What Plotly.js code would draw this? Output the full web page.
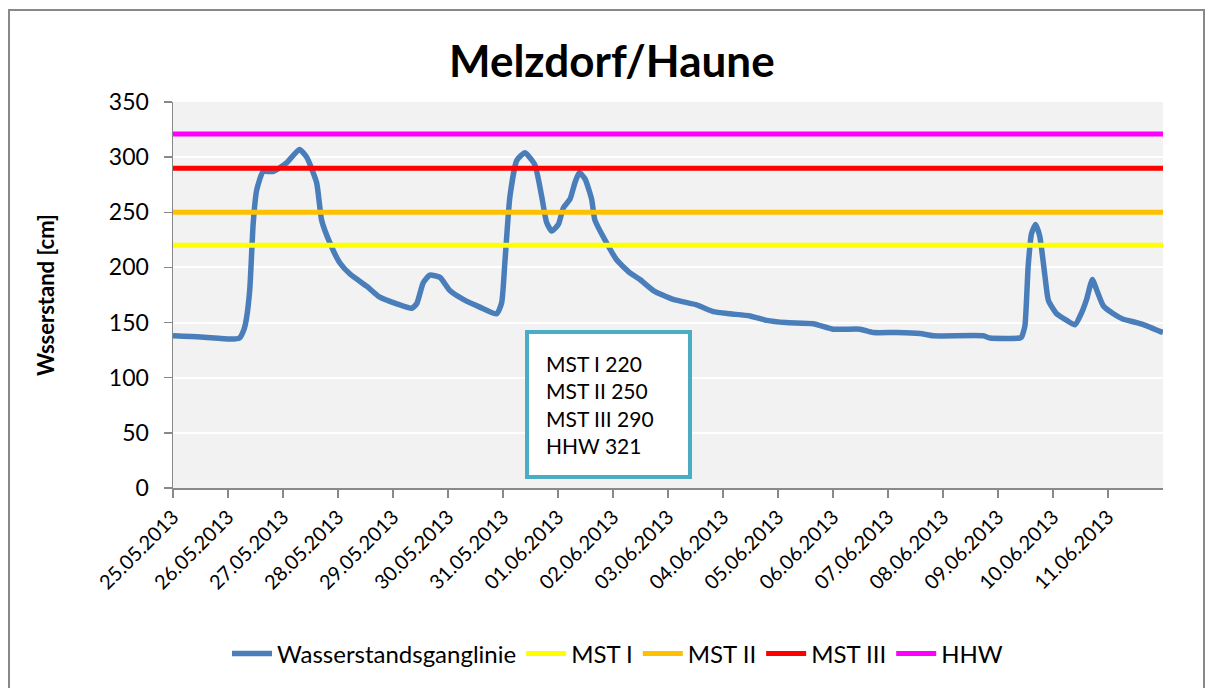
<!DOCTYPE html>
<html>
<head>
<meta charset="utf-8">
<script src="https://cdn.plot.ly/plotly-3.0.1.min.js"></script>
<style>
  html, body { margin: 0; padding: 0; background: #fff; }
  #wrap { position: relative; width: 1214px; height: 688px; overflow: hidden; }
  #chart { position: absolute; left: 0; top: 0; width: 1214px; height: 688px; }
  #frame { position: absolute; left: 8px; top: 9px; width: 1197px; height: 700px;
           border: 2px solid #898989; pointer-events: none; box-sizing: border-box; }
</style>
</head>
<body>
<div id="wrap">
  <div id="chart"></div>
  <div id="frame"></div>
</div>
<script>
// ---- data ----
const times = [
  "2013-05-25 00:00","2013-05-25 12:00","2013-05-26 01:00","2013-05-26 05:00","2013-05-26 07:00",
  "2013-05-26 08:00","2013-05-26 09:30","2013-05-26 11:00","2013-05-26 12:30","2013-05-26 15:20",
  "2013-05-26 19:45","2013-05-27 01:40","2013-05-27 07:10","2013-05-27 10:20","2013-05-27 14:40",
  "2013-05-27 16:50","2013-05-27 20:30","2013-05-28 00:50","2013-05-28 05:15","2013-05-28 12:30",
  "2013-05-28 18:15","2013-05-29 01:40","2013-05-29 08:10","2013-05-29 10:20","2013-05-29 13:10",
  "2013-05-29 16:05","2013-05-29 20:30","2013-05-30 00:50","2013-05-30 06:40","2013-05-30 13:55",
  "2013-05-30 21:15","2013-05-30 23:25","2013-05-31 00:50","2013-05-31 03:00","2013-05-31 06:00",
  "2013-05-31 09:35","2013-05-31 13:55","2013-05-31 16:50","2013-05-31 19:00","2013-05-31 21:15",
  "2013-06-01 00:10","2013-06-01 02:20","2013-06-01 05:15","2013-06-01 07:25","2013-06-01 09:20",
  "2013-06-01 11:50","2013-06-01 14:40","2013-06-01 16:05","2013-06-01 19:40","2013-06-02 01:35",
  "2013-06-02 07:25","2013-06-02 11:45","2013-06-02 17:35","2013-06-03 02:20","2013-06-03 12:30",
  "2013-06-03 19:45","2013-06-04 03:00","2013-06-04 11:45","2013-06-04 19:00","2013-06-05 03:30",
  "2013-06-05 15:20","2013-06-06 00:10","2013-06-06 11:45","2013-06-06 17:35","2013-06-07 03:50",
  "2013-06-07 14:00","2013-06-07 19:45","2013-06-08 17:35","2013-06-08 20:30","2013-06-09 09:35",
  "2013-06-09 10:20","2013-06-09 11:45","2013-06-09 13:10","2013-06-09 14:40","2013-06-09 16:25",
  "2013-06-09 18:15","2013-06-09 20:30","2013-06-09 22:00","2013-06-10 01:35","2013-06-10 06:00",
  "2013-06-10 09:35","2013-06-10 12:30","2013-06-10 14:40","2013-06-10 17:10","2013-06-10 19:00",
  "2013-06-10 22:00","2013-06-11 02:20","2013-06-11 06:40","2013-06-11 12:30","2013-06-11 16:55",
  "2013-06-11 22:40","2013-06-12 00:00"
];
const wasserstand = [
  138,137,135,136,144,
  153,180,240,270,287,
  287,295,307,300,277,
  243,222,204,194,183,
  173,167,163,167,186,
  193,191,179,171,164,
  158,168,205,264,297,
  304,293,265,241,233,
  239,254,262,277,286,
  280,262,243,228,207,
  195,189,179,171,166,
  160,158,156,152,150,
  149,144,144,141,141,
  140,138,138,136,136,
  137,147,201,231,239,
  228,192,170,158,152,
  148,159,171,189,180,
  165,158,153,150,147,
  142,141
];
const levelSpan = ["2013-05-25 00:00", "2013-06-12 00:00"];
const levelNames = ["MST I", "MST II", "MST III", "HHW"];
const levelValues = [220, 250, 290, 321];
const levelColors = ["#FFFF00", "#FFC000", "#FF0000", "#FF00FF"];
const tickDates = ["2013-05-25","2013-05-26","2013-05-27","2013-05-28","2013-05-29","2013-05-30",
  "2013-05-31","2013-06-01","2013-06-02","2013-06-03","2013-06-04","2013-06-05","2013-06-06",
  "2013-06-07","2013-06-08","2013-06-09","2013-06-10","2013-06-11"];
const tickLabels = ["25.05.2013","26.05.2013","27.05.2013","28.05.2013","29.05.2013","30.05.2013",
  "31.05.2013","01.06.2013","02.06.2013","03.06.2013","04.06.2013","05.06.2013","06.06.2013",
  "07.06.2013","08.06.2013","09.06.2013","10.06.2013","11.06.2013"];
const boxText = ["MST I 220", "MST II 250", "MST III 290", "HHW 321"];

const FONT = "Lato, 'Open Sans', sans-serif";

const traces = [{
  type: "scatter", mode: "lines", name: "Wasserstandsganglinie",
  x: times, y: wasserstand,
  line: { color: "#4A7EBB", width: 5.5, shape: "spline", smoothing: 0.5 }
}];
levelNames.forEach((n, i) => {
  traces.push({
    type: "scatter", mode: "lines", name: n,
    x: levelSpan, y: [levelValues[i], levelValues[i]],
    line: { color: levelColors[i], width: 5 }
  });
});

const layout = {
  width: 1214, height: 688,
  margin: { l: 173, r: 51, t: 102, b: 198 },
  paper_bgcolor: "rgba(0,0,0,0)",
  plot_bgcolor: "#F2F2F2",
  font: { family: FONT, size: 22, color: "#000" },
  title: { text: "<b>Melzdorf/Haune</b>", font: { family: FONT, size: 44, color: "#000" },
           x: 0.504, xref: "container", xanchor: "center", y: 0.91, yanchor: "middle" },
  xaxis: {
    type: "date",
    range: levelSpan,
    tickmode: "array", tickvals: tickDates, ticktext: tickLabels,
    tickangle: -45, ticks: "outside", ticklen: 8, tickcolor: "#898989", tickwidth: 1.5,
    showline: true, linecolor: "#898989", linewidth: 1.5,
    showgrid: false, zeroline: false,
    tickfont: { family: FONT, size: 20, color: "#000" },
    fixedrange: true
  },
  yaxis: {
    range: [0, 350], tickmode: "linear", tick0: 0, dtick: 50,
    ticks: "outside", ticklen: 8, tickcolor: "#898989", tickwidth: 1.5,
    showline: true, linecolor: "#898989", linewidth: 1.5,
    showgrid: true, gridcolor: "#FFFFFF", gridwidth: 2, zeroline: false,
    tickfont: { family: FONT, size: 23, color: "#000" },
    ticklabelstandoff: 10,
    title: { text: "<b>Wsserstand [cm]</b>", font: { family: FONT, size: 22, color: "#000" }, standoff: 48 },
    automargin: false,
    fixedrange: true
  },
  showlegend: true,
  legend: {
    orientation: "h", x: 0.449, xanchor: "center", y: -0.43, yanchor: "middle",
    font: { family: FONT, size: 24, color: "#000" }, bgcolor: "rgba(0,0,0,0)",
    itemwidth: 40
  },
  annotations: [{
    xref: "paper", yref: "paper", x: 0.44, y: 0.2165, xanchor: "center", yanchor: "middle",
    text: boxText.join("<br>"), align: "left", showarrow: false, width: 125,
    font: { family: FONT, size: 21, color: "#000" },
    bgcolor: "#FFFFFF", bordercolor: "#4BACC6", borderwidth: 4, borderpad: 17
  }]
};

Plotly.newPlot("chart", traces, layout, { displayModeBar: false, staticPlot: true });
</script>
</body>
</html>
